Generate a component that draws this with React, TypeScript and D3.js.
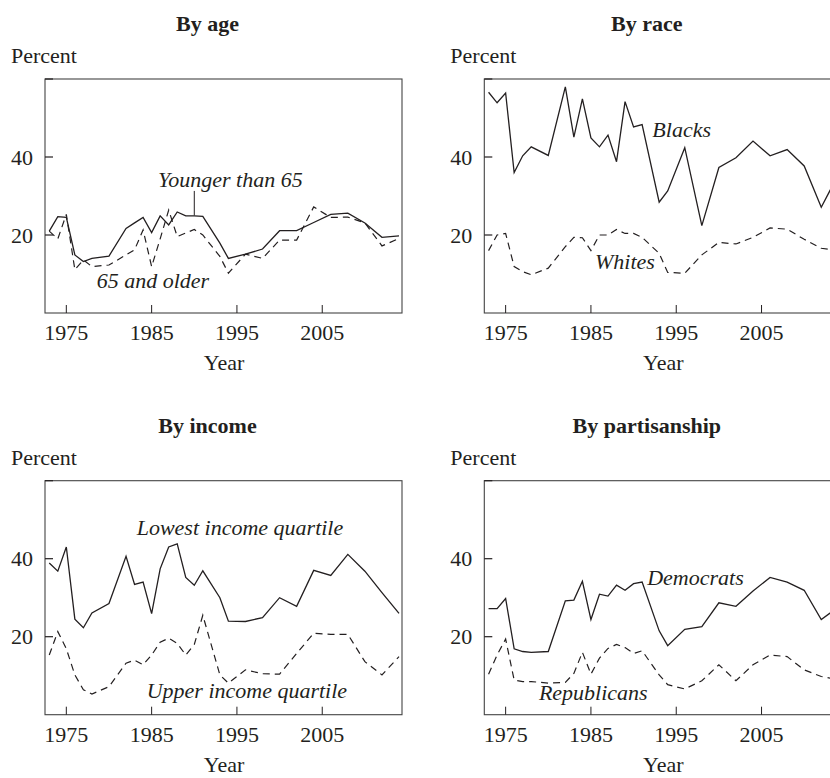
import React from "react";
import * as d3 from "d3";

// survey years (GSS-style gaps: no 1979, 1981, 1992, then every 2 years)
const years = [
  1973, 1974, 1975, 1976, 1977, 1978, 1980, 1982, 1983, 1984, 1985, 1986, 1987,
  1988, 1989, 1990, 1991, 1993, 1994, 1996, 1998, 2000, 2002, 2004, 2006, 2008,
  2010, 2012, 2014,
];

const youngerThan65 = [
  21, 24.7, 24.5, 14.9, 13.2, 14.0, 14.6, 21.7, 23.1, 24.5, 20.6, 24.9, 22.6,
  25.9, 24.9, 24.9, 24.8, 17.9, 14.0, 15.1, 16.4, 21.1, 21.1, 23.2, 25.3, 25.6,
  23.1, 19.4, 19.8,
];
const olderThan65 = [
  21, 19, 25.3, 11.1, 13.6, 11.9, 12.3, 14.9, 16.2, 21.3, 11.9, 19, 26.4, 19.6,
  20.5, 21.4, 20, 14.5, 10.2, 15.1, 14.0, 18.7, 18.7, 27.2, 24.5, 24.6, 23.1,
  17.2, 19.1,
];

const blacks = [
  56.6, 53.9, 56.4, 36.0, 40.3, 42.6, 40.4, 58.0, 45.1, 54.9, 44.9, 42.6, 45.6,
  38.8, 54.2, 47.7, 48.3, 28.4, 31.3, 42.4, 22.4, 37.3, 39.8, 44.1, 40.3, 41.9,
  37.7, 27.1, 35.5,
];
const whites = [
  16.0, 20.0, 20.4, 11.9, 10.6, 9.8, 11.5, 17.0, 19.4, 19.3, 16.0, 20.0, 20.0,
  21.4, 20.4, 20.4, 19.4, 15.3, 10.4, 10.2, 14.9, 18.1, 17.7, 19.4, 21.8, 21.5,
  18.9, 16.6, 16.0,
];

const lowestIncome = [
  38.9, 36.8, 43.0, 24.5, 22.3, 26.1, 28.5, 40.6, 33.4, 34.0, 25.9, 37.4, 43.0,
  43.8, 35.2, 33.2, 36.9, 30.0, 24.0, 23.9, 24.9, 30.0, 27.8, 37.0, 35.7, 41.1,
  36.8, 31.3, 26.0,
];
const upperIncome = [
  15.3, 21.3, 16.9, 10.2, 6.4, 5.3, 7.2, 13.2, 14.0, 12.8, 15.3, 18.6, 19.6,
  18.3, 15.3, 18.0, 25.5, 10.2, 8.1, 11.5, 10.5, 10.4, 15.7, 20.9, 20.6, 20.6,
  13.6, 10.2, 14.9,
];

const democrats = [
  27.2, 27.2, 29.8, 16.9, 16.2, 16.0, 16.2, 29.2, 29.4, 34.2, 24.4, 30.9, 30.4,
  33.2, 31.9, 33.6, 34.0, 21.5, 17.7, 21.9, 22.6, 28.7, 27.8, 31.7, 35.2, 34.0,
  31.9, 24.4, 27.6,
];
const republicans = [
  10.4, 15.3, 19.4, 8.9, 8.5, 8.5, 8.1, 8.3, 10.6, 16.0, 10.4, 14.5, 17.0, 18.0,
  17.2, 15.7, 16.4, 10.2, 7.7, 6.6, 8.7, 12.8, 8.7, 12.8, 15.3, 14.9, 11.5, 9.8,
  9.0,
];

const xTicks = [1975, 1985, 1995, 2005];
const yTicks = [20, 40, 60];
const yTickLabels = [20, 40];

const INK = "#231f20";
const FONT = "'Liberation Serif', 'Times New Roman', serif";

const W = 357;
const H = 234;

interface Label {
  text: string;
  year: number;
  value: number;
}

interface PanelProps {
  left: number;
  top: number;
  title: string;
  solid: number[];
  dashed: number[];
  labels: Label[];
  leader?: { year: number; from: number; to: number };
}

function Panel({ left, top, title, solid, dashed, labels, leader }: PanelProps) {
  const x = d3.scaleLinear().domain([1972.5, 2014.35]).range([0, W]);
  const y = d3.scaleLinear().domain([0, 60]).range([H, 0]);

  const line = d3
    .line<number>()
    .x((_, i) => x(years[i]))
    .y((d) => y(d));

  return (
    <g transform={`translate(${left},${top})`} fontFamily={FONT} fill={INK}>
      <text x={162.5} y={-48} textAnchor="middle" fontWeight="bold" fontSize={22}>
        {title}
      </text>
      <text x={-34} y={-16} fontSize={22}>
        Percent
      </text>

      <rect x={0} y={0} width={W} height={H} fill="none" stroke="#444" strokeWidth={1.1} />

      {xTicks.map((t) => (
        <g key={t}>
          <line x1={x(t)} x2={x(t)} y1={H} y2={H - 8} stroke={INK} strokeWidth={1} />
          <text x={x(t)} y={H + 27} textAnchor="middle" fontSize={22}>
            {t}
          </text>
        </g>
      ))}
      {yTicks.map((t) => (
        <line key={t} x1={0} x2={8} y1={y(t)} y2={y(t)} stroke={INK} strokeWidth={1.2} />
      ))}
      {yTickLabels.map((t) => (
        <text key={t} x={-12} y={y(t)} dy="0.35em" textAnchor="end" fontSize={22}>
          {t}
        </text>
      ))}
      <text x={179} y={H + 57} textAnchor="middle" fontSize={22}>
        Year
      </text>

      <path d={line(solid) || ""} fill="none" stroke={INK} strokeWidth={1.3} />
      <path
        d={line(dashed) || ""}
        fill="none"
        stroke={INK}
        strokeWidth={1.2}
        strokeDasharray="7,5"
      />

      {labels.map((l) => (
        <text
          key={l.text}
          x={x(l.year)}
          y={y(l.value)}
          fontStyle="italic"
          fontSize={22}
          fill={INK}
        >
          {l.text}
        </text>
      ))}
      {leader && (
        <line
          x1={x(leader.year)}
          x2={x(leader.year)}
          y1={y(leader.from)}
          y2={y(leader.to)}
          stroke={INK}
          strokeWidth={1}
        />
      )}
    </g>
  );
}

export default function App() {
  return (
    <svg
      width={830}
      height={778}
      style={{ position: "absolute", left: 0, top: 0, background: "#fff" }}
    >
      <rect width={830} height={778} fill="#fff" />
      <Panel
        left={45}
        top={79}
        title="By age"
        solid={youngerThan65}
        dashed={olderThan65}
        labels={[
          { text: "Younger than 65", year: 1985.75, value: 32.2 },
          { text: "65 and older", year: 1978.56, value: 6.5 },
        ]}
        leader={{ year: 1990, from: 31.3, to: 25 }}
      />
      <Panel
        left={484.3}
        top={79}
        title="By race"
        solid={blacks}
        dashed={whites}
        labels={[
          { text: "Blacks", year: 1992.2, value: 45.1 },
          { text: "Whites", year: 1985.48, value: 11.2 },
        ]}
      />
      <Panel
        left={45}
        top={480.7}
        title="By income"
        solid={lowestIncome}
        dashed={upperIncome}
        labels={[
          { text: "Lowest income quartile", year: 1983.25, value: 46.0 },
          { text: "Upper income quartile", year: 1984.42, value: 4.3 },
        ]}
      />
      <Panel
        left={484.3}
        top={480.7}
        title="By partisanship"
        solid={democrats}
        dashed={republicans}
        labels={[
          { text: "Democrats", year: 1991.6, value: 33.2 },
          { text: "Republicans", year: 1978.9, value: 3.8 },
        ]}
      />
    </svg>
  );
}
